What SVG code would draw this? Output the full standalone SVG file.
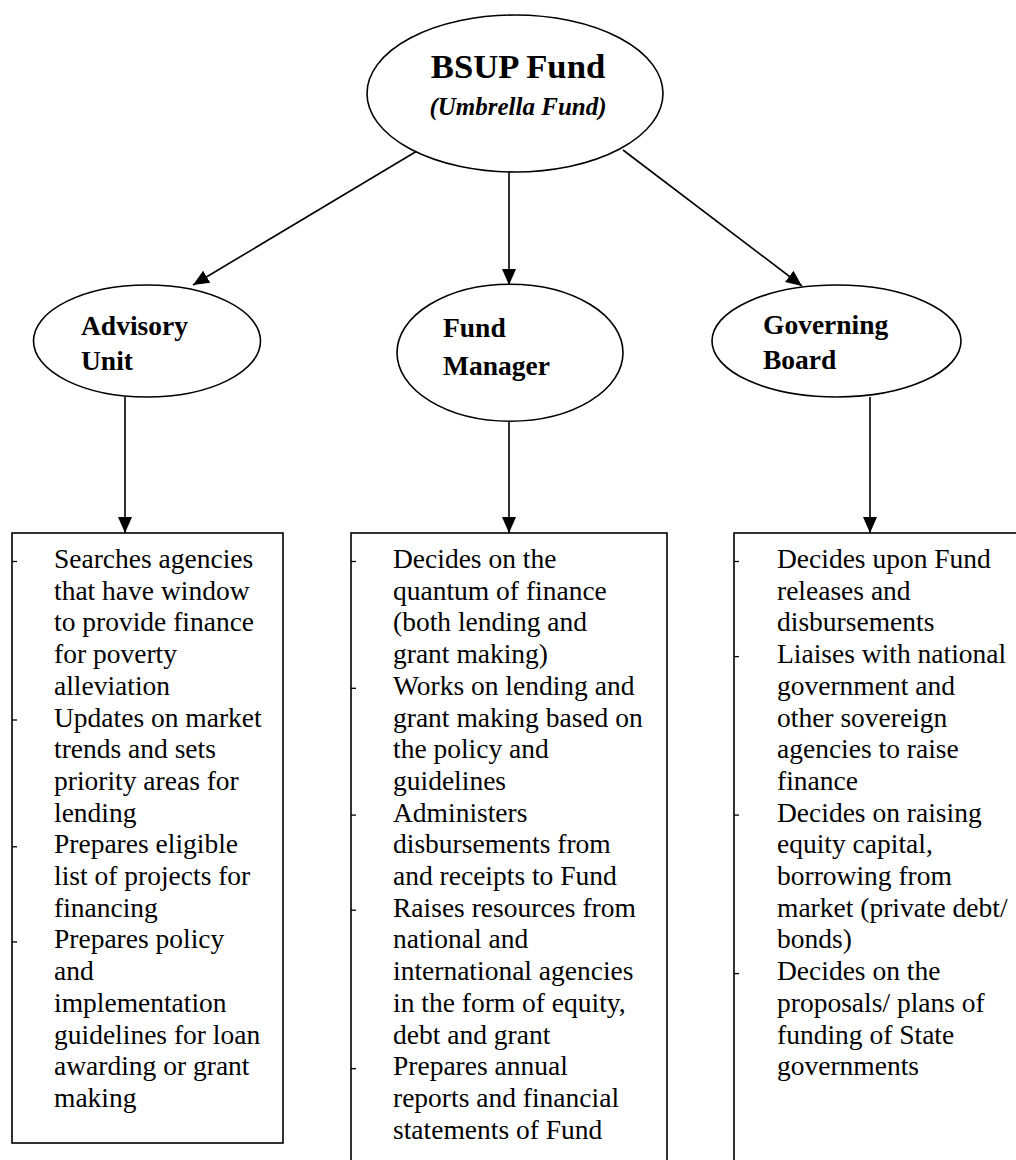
<svg xmlns="http://www.w3.org/2000/svg" width="1016" height="1160" viewBox="0 0 1016 1160">
  <style>
    .shape { fill: #fff; stroke: #000; stroke-width: 1.6; }
    .edge { fill: none; stroke: #000; stroke-width: 1.6; }
    .tick { stroke: #000; stroke-width: 1.3; }
    .title { font-family: "Liberation Serif", "Times New Roman", serif; font-weight: bold; fill: #000; }
    .label { font-family: "Liberation Serif", "Times New Roman", serif; font-weight: bold; font-size: 27.5px; fill: #000; }
    .body { font-family: "Liberation Serif", "Times New Roman", serif; font-size: 27.5px; fill: #000; }
  </style>
  <defs>
    <marker id="arrow" markerUnits="userSpaceOnUse" markerWidth="16" markerHeight="16" viewBox="0 0 16 16" refX="16" refY="8" orient="auto">
      <path d="M0,1 L16,8 L0,15 Z" fill="#000"/>
    </marker>
  </defs>
  <rect width="1016" height="1160" fill="#fff"/>

  <!-- connectors -->
  <g id="connectors">
    <line class="edge" x1="417" y1="151" x2="193" y2="285" marker-end="url(#arrow)"/>
    <line class="edge" x1="509" y1="172" x2="509" y2="285" marker-end="url(#arrow)"/>
    <line class="edge" x1="623" y1="150" x2="802" y2="286" marker-end="url(#arrow)"/>
    <line class="edge" x1="125" y1="397" x2="125" y2="533" marker-end="url(#arrow)"/>
    <line class="edge" x1="509" y1="421" x2="509" y2="533" marker-end="url(#arrow)"/>
    <line class="edge" x1="870" y1="397" x2="870" y2="533" marker-end="url(#arrow)"/>
  </g>

  <!-- root fund -->
  <g id="bsup-fund">
    <ellipse class="shape" cx="515" cy="93.5" rx="148" ry="78.5"/>
    <text class="title" x="518" y="78" font-size="34.7" text-anchor="middle">BSUP Fund</text>
    <text class="title" x="518" y="115" font-size="25" font-style="italic" text-anchor="middle">(Umbrella Fund)</text>
  </g>

  <!-- second level units -->
  <g id="advisory-unit">
    <ellipse class="shape" cx="147" cy="341" rx="113.5" ry="56"/>
    <text class="label" x="81" y="335">Advisory</text>
    <text class="label" x="81" y="370">Unit</text>
  </g>
  <g id="fund-manager">
    <ellipse class="shape" cx="510" cy="352.7" rx="113" ry="68.5"/>
    <text class="label" x="443" y="337">Fund</text>
    <text class="label" x="443" y="375">Manager</text>
  </g>
  <g id="governing-board">
    <ellipse class="shape" cx="836.5" cy="341" rx="124.5" ry="56"/>
    <text class="label" x="763" y="334">Governing</text>
    <text class="label" x="763" y="369">Board</text>
  </g>

  <!-- duty lists -->
  <g id="advisory-duties">
    <rect class="shape" x="12" y="533" width="271" height="610"/>
    <g class="tick">
      <line x1="12" y1="561.5" x2="17" y2="561.5"/>
      <line x1="12" y1="720" x2="17" y2="720"/>
      <line x1="12" y1="846.8" x2="17" y2="846.8"/>
      <line x1="12" y1="941.9" x2="17" y2="941.9"/>
    </g>
    <text class="body" x="54">
      <tspan x="54" y="568">Searches agencies</tspan>
      <tspan x="54" y="599.7">that have window</tspan>
      <tspan x="54" y="631.4">to provide finance</tspan>
      <tspan x="54" y="663.1">for poverty</tspan>
      <tspan x="54" y="694.8">alleviation</tspan>
      <tspan x="54" y="726.5">Updates on market</tspan>
      <tspan x="54" y="758.2">trends and sets</tspan>
      <tspan x="54" y="789.9">priority areas for</tspan>
      <tspan x="54" y="821.6">lending</tspan>
      <tspan x="54" y="853.3">Prepares eligible</tspan>
      <tspan x="54" y="885">list of projects for</tspan>
      <tspan x="54" y="916.7">financing</tspan>
      <tspan x="54" y="948.4">Prepares policy</tspan>
      <tspan x="54" y="980.1">and</tspan>
      <tspan x="54" y="1011.8">implementation</tspan>
      <tspan x="54" y="1043.5">guidelines for loan</tspan>
      <tspan x="54" y="1075.2">awarding or grant</tspan>
      <tspan x="54" y="1106.9">making</tspan>
    </text>
  </g>

  <g id="manager-duties">
    <rect class="shape" x="351" y="533" width="316" height="640"/>
    <g class="tick">
      <line x1="351" y1="561.5" x2="356" y2="561.5"/>
      <line x1="351" y1="688.3" x2="356" y2="688.3"/>
      <line x1="351" y1="815.1" x2="356" y2="815.1"/>
      <line x1="351" y1="910.2" x2="356" y2="910.2"/>
      <line x1="351" y1="1068.7" x2="356" y2="1068.7"/>
    </g>
    <text class="body" x="393">
      <tspan x="393" y="568">Decides on the</tspan>
      <tspan x="393" y="599.7">quantum of finance</tspan>
      <tspan x="393" y="631.4">(both lending and</tspan>
      <tspan x="393" y="663.1">grant making)</tspan>
      <tspan x="393" y="694.8">Works on lending and</tspan>
      <tspan x="393" y="726.5">grant making based on</tspan>
      <tspan x="393" y="758.2">the policy and</tspan>
      <tspan x="393" y="789.9">guidelines</tspan>
      <tspan x="393" y="821.6">Administers</tspan>
      <tspan x="393" y="853.3">disbursements from</tspan>
      <tspan x="393" y="885">and receipts to Fund</tspan>
      <tspan x="393" y="916.7">Raises resources from</tspan>
      <tspan x="393" y="948.4">national and</tspan>
      <tspan x="393" y="980.1">international agencies</tspan>
      <tspan x="393" y="1011.8">in the form of equity,</tspan>
      <tspan x="393" y="1043.5">debt and grant</tspan>
      <tspan x="393" y="1075.2">Prepares annual</tspan>
      <tspan x="393" y="1106.9">reports and financial</tspan>
      <tspan x="393" y="1138.6">statements of Fund</tspan>
    </text>
  </g>

  <g id="board-duties">
    <rect class="shape" x="734" y="533" width="300" height="640"/>
    <g class="tick">
      <line x1="734" y1="561.5" x2="739" y2="561.5"/>
      <line x1="734" y1="656.6" x2="739" y2="656.6"/>
      <line x1="734" y1="815.1" x2="739" y2="815.1"/>
      <line x1="734" y1="973.6" x2="739" y2="973.6"/>
    </g>
    <text class="body" x="777">
      <tspan x="777" y="568">Decides upon Fund</tspan>
      <tspan x="777" y="599.7">releases and</tspan>
      <tspan x="777" y="631.4">disbursements</tspan>
      <tspan x="777" y="663.1">Liaises with national</tspan>
      <tspan x="777" y="694.8">government and</tspan>
      <tspan x="777" y="726.5">other sovereign</tspan>
      <tspan x="777" y="758.2">agencies to raise</tspan>
      <tspan x="777" y="789.9">finance</tspan>
      <tspan x="777" y="821.6">Decides on raising</tspan>
      <tspan x="777" y="853.3">equity capital,</tspan>
      <tspan x="777" y="885">borrowing from</tspan>
      <tspan x="777" y="916.7">market (private debt/</tspan>
      <tspan x="777" y="948.4">bonds)</tspan>
      <tspan x="777" y="980.1">Decides on the</tspan>
      <tspan x="777" y="1011.8">proposals/ plans of</tspan>
      <tspan x="777" y="1043.5">funding of State</tspan>
      <tspan x="777" y="1075.2">governments</tspan>
    </text>
  </g>
</svg>
